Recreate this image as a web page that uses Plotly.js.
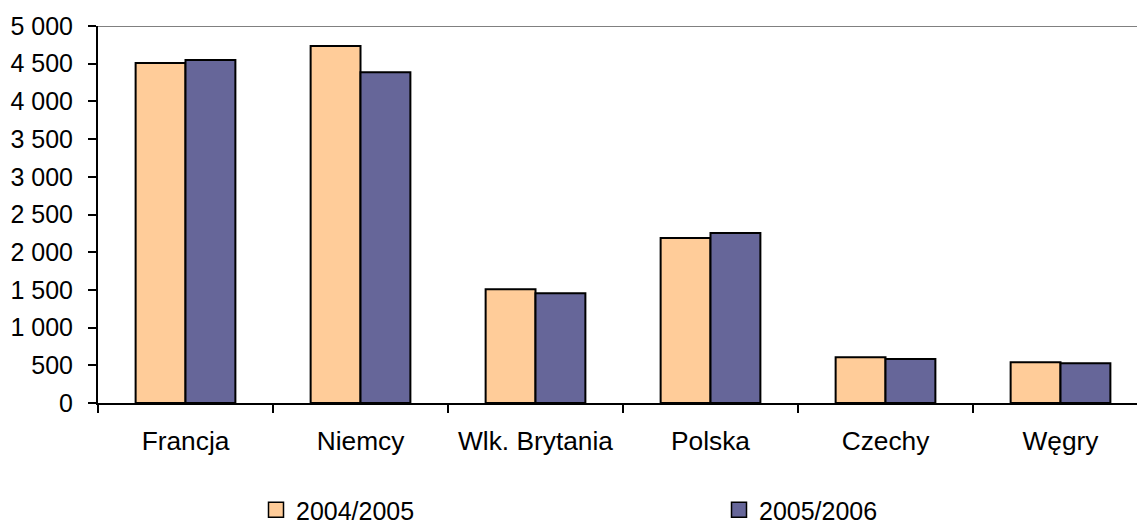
<!DOCTYPE html>
<html>
<head>
<meta charset="utf-8">
<script src="https://cdn.plot.ly/plotly-3.0.1.min.js"></script>
<style>html,body{margin:0;padding:0;background:#fff;}#chart{width:1137px;height:523px;}</style>
</head>
<body>
<div id="chart"></div>
<script>
const categories = ["Francja", "Niemcy", "Wlk. Brytania", "Polska", "Czechy", "Węgry"];
const seriesNames = ["2004/2005", "2005/2006"];
const values2004_2005 = [4510, 4735, 1508, 2188, 606, 540];
const values2005_2006 = [4550, 4386, 1455, 2255, 584, 526];
const yTickVals = [0, 500, 1000, 1500, 2000, 2500, 3000, 3500, 4000, 4500, 5000];

const colors = ["#FFCC99", "#666699"];
const font = "Liberation Sans, Arial, sans-serif";

const traces = [
  {type: "bar", x: categories, y: values2004_2005, name: seriesNames[0], showlegend: false,
   marker: {color: colors[0], line: {color: "#000", width: 2}}, hoverinfo: "x+y"},
  {type: "bar", x: categories, y: values2005_2006, name: seriesNames[1], showlegend: false,
   marker: {color: colors[1], line: {color: "#000", width: 2}}, hoverinfo: "x+y"},
  {type: "scatter", mode: "markers", x: [null], y: [null], name: seriesNames[0], showlegend: true,
   marker: {symbol: "square", size: 15, color: colors[0], line: {color: "#000", width: 1.5}}},
  {type: "scatter", mode: "markers", x: [null], y: [null], name: seriesNames[1], showlegend: true,
   marker: {symbol: "square", size: 15, color: colors[1], line: {color: "#000", width: 1.5}}}
];

const layout = {
  width: 1137, height: 523,
  margin: {l: 98, r: 0, t: 26, b: 120, autoexpand: false},
  paper_bgcolor: "#fff", plot_bgcolor: "#fff",
  separators: ", ",
  font: {family: font, size: 25, color: "#000"},
  barmode: "group", bargap: 0.43, bargroupgap: 0,
  xaxis: {
    type: "category", automargin: false, tickangle: 0,
    range: [-0.5, 5.5 - 11/175],
    showline: true, linecolor: "#000", linewidth: 2,
    ticks: "outside", tickson: "boundaries", ticklen: 8, tickwidth: 2, tickcolor: "#000",
    ticklabelstandoff: 13,
    showgrid: false, zeroline: false, fixedrange: true,
    tickfont: {family: font, size: 26.3, color: "#000"}
  },
  yaxis: {
    range: [0, 5000], automargin: false,
    tickvals: yTickVals, tickformat: ",d",
    showline: true, linecolor: "#000", linewidth: 2,
    ticks: "outside", ticklen: 8, tickwidth: 2, tickcolor: "#000",
    ticklabelstandoff: 10,
    showgrid: false, zeroline: false, fixedrange: true,
    tickfont: {family: font, size: 25, color: "#000"}
  },
  shapes: [
    {type: "line", xref: "paper", x0: 0, x1: 1, yref: "y", y0: 5000, y1: 5000,
     line: {color: "#808080", width: 2}, layer: "below"}
  ],
  legend: {
    orientation: "h", x: 256/1137, xanchor: "left", y: 13/523, yanchor: "middle",
    xref: "container", yref: "container",
    entrywidth: 418, entrywidthmode: "pixels",
    font: {family: font, size: 25, color: "#000"},
    bgcolor: "rgba(0,0,0,0)", itemclick: false, itemdoubleclick: false
  }
};

Plotly.newPlot("chart", traces, layout, {displayModeBar: false, staticPlot: true});
</script>
</body>
</html>
